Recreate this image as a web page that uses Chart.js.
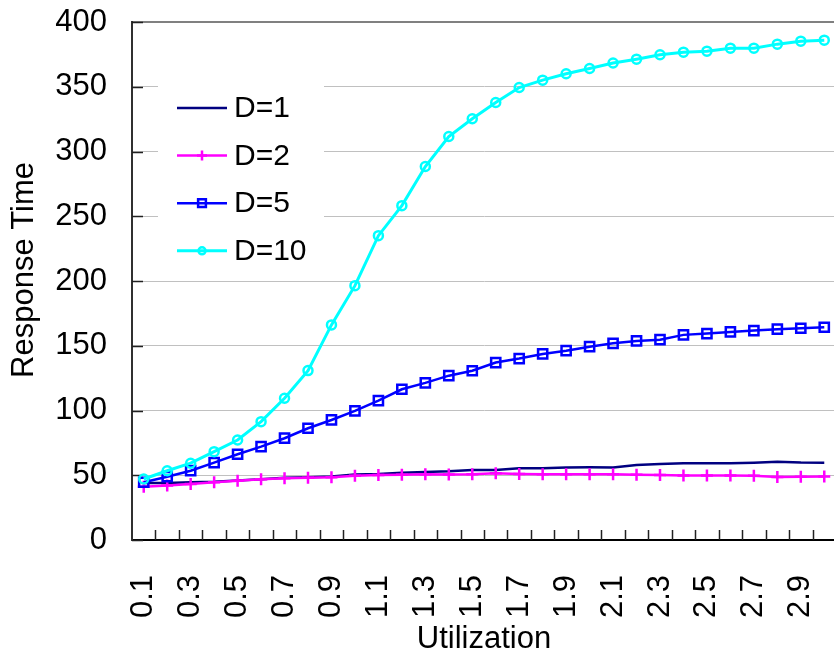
<!DOCTYPE html>
<html>
<head>
<meta charset="utf-8">
<title>Response Time vs Utilization</title>
<script src="https://cdn.jsdelivr.net/npm/chart.js@4/dist/chart.umd.min.js"></script>
<style>
  html, body { margin: 0; padding: 0; background: #fff; overflow: hidden; }
  #chart { display: block; }
</style>
</head>
<body>
<canvas id="chart" width="845" height="658"></canvas>
<script>
// x categories
const utilization = ['0.1', '0.2', '0.3', '0.4', '0.5', '0.6', '0.7', '0.8', '0.9', '1.0',
                     '1.1', '1.2', '1.3', '1.4', '1.5', '1.6', '1.7', '1.8', '1.9', '2.0',
                     '2.1', '2.2', '2.3', '2.4', '2.5', '2.6', '2.7', '2.8', '2.9', '3.0'];

// response time per series
const d1 = [44, 44, 44.5, 45, 46, 47, 48, 48.5, 49, 50.5,
            51, 52, 52.5, 53, 54, 54, 55.4, 55.5, 56, 56.2,
            56, 58, 58.7, 59.2, 59.3, 59.3, 59.7, 60.5, 59.8, 59.7];
const d2 = [41.2, 42, 43.3, 44.6, 45.8, 46.9, 47.7, 48.1, 48.4, 49.7,
            50.2, 50.4, 50.7, 50.5, 50.7, 51.5, 51, 50.7, 50.7, 50.7,
            50.7, 50.4, 50.2, 49.9, 49.9, 49.9, 49.6, 48.7, 48.9, 49.1];
const d5 = [44.6, 48.9, 53.5, 59.7, 66.2, 72.1, 78.6, 86.3, 92.7, 99.7,
            107.6, 116.4, 121.3, 126.9, 130.7, 137, 140.1, 143.7, 146.2, 149.3,
            151.9, 153.7, 154.7, 158.4, 159.4, 160.7, 161.7, 162.8, 163.5, 164.3];
const d10 = [47.1, 53.5, 59.3, 68.2, 77.2, 91.4, 109.5, 130.8, 166.1, 196.4,
             235, 258.2, 288.4, 311.6, 325.3, 337.8, 349.4, 355.1, 360, 364.1,
             368.3, 371.3, 374.7, 376.7, 377.5, 379.8, 379.8, 382.9, 385.2, 386];

const seriesNames = ['D=1', 'D=2', 'D=5', 'D=10'];
const yTitle = 'Response Time';

Chart.defaults.font.family = "'Liberation Sans', Arial, sans-serif";
Chart.defaults.color = '#000';

// legend drawn inside the plot, on a white box
const insideLegend = {
  id: 'insideLegend',
  beforeDatasetsDraw(chart) {
    const ctx = chart.ctx;
    ctx.save();
    ctx.fillStyle = '#fff';
    ctx.fillRect(158, 72, 166, 202);
    chart.data.datasets.forEach((ds, i) => {
      const y = 108 + i * 47.6;
      ctx.strokeStyle = ds.borderColor;
      ctx.lineWidth = ds.borderWidth;
      ctx.beginPath();
      ctx.moveTo(177, y);
      ctx.lineTo(227, y);
      ctx.stroke();
      if (ds.pointRadius > 0 && Chart.helpers && Chart.helpers.drawPoint) {
        ctx.strokeStyle = ds.pointBorderColor;
        ctx.fillStyle = 'rgba(0,0,0,0)';
        ctx.lineWidth = ds.pointBorderWidth;
        Chart.helpers.drawPoint(ctx, {
          pointStyle: ds.pointStyle, radius: ds.pointRadius - 1, borderWidth: ds.pointBorderWidth, rotation: 0
        }, 202, y);
      }
      ctx.fillStyle = '#000';
      ctx.font = "30px 'Liberation Sans', Arial, sans-serif";
      ctx.textBaseline = 'middle';
      ctx.textAlign = 'left';
      ctx.fillText(ds.label, 234, y + 1);
    });
    ctx.restore();
  }
};

// short tick marks pointing into the plot area, plus the vertical axis title
const innerTicks = {
  id: 'innerTicks',
  beforeDatasetsDraw(chart) {
    const ctx = chart.ctx;
    const xs = chart.scales.x, ys = chart.scales.y;
    const area = chart.chartArea;
    ctx.save();
    ctx.strokeStyle = '#202020';
    ctx.lineWidth = 1.5;
    ctx.beginPath();
    ys.ticks.forEach((t, i) => {
      const py = Math.round(ys.getPixelForTick(i)) + 0.5;
      ctx.moveTo(area.left, py);
      ctx.lineTo(area.left + 11, py);
    });
    const half = (xs.getPixelForTick(1) - xs.getPixelForTick(0)) / 2;
    for (let i = 1; i <= utilization.length; i++) {
      const px = Math.round(xs.getPixelForTick(i - 1) + half) + 0.5;
      ctx.moveTo(px, area.bottom);
      ctx.lineTo(px, area.bottom - 10);
    }
    ctx.stroke();

    ctx.translate(24, 270);
    ctx.rotate(-Math.PI / 2);
    ctx.fillStyle = '#000';
    ctx.font = "31px 'Liberation Sans', Arial, sans-serif";
    ctx.textAlign = 'center';
    ctx.textBaseline = 'middle';
    ctx.fillText(yTitle, 0, 0);
    ctx.restore();
  }
};

new Chart(document.getElementById('chart').getContext('2d'), {
  type: 'line',
  data: {
    labels: utilization,
    datasets: [{
      label: seriesNames[0],
      data: d1,
      borderColor: '#000080',
      borderWidth: 2.5,
      pointRadius: 0,
      order: 3
    }, {
      label: seriesNames[1],
      data: d2,
      borderColor: '#ff00ff',
      borderWidth: 2.5,
      pointStyle: 'cross',
      pointRadius: 6,
      pointBorderColor: '#ff00ff',
      pointBorderWidth: 2.5,
      order: 2
    }, {
      label: seriesNames[2],
      data: d5,
      borderColor: '#0000ff',
      borderWidth: 2.5,
      pointStyle: 'rect',
      pointRadius: 6.5,
      pointBorderColor: '#0000ff',
      pointBackgroundColor: 'rgba(0,0,0,0)',
      pointBorderWidth: 2.5,
      order: 1
    }, {
      label: seriesNames[3],
      data: d10,
      borderColor: '#00ffff',
      borderWidth: 3,
      pointStyle: 'circle',
      pointRadius: 4.5,
      pointBorderColor: '#00ffff',
      pointBackgroundColor: 'rgba(0,0,0,0)',
      pointBorderWidth: 2.5,
      order: 0
    }]
  },
  options: {
    responsive: false,
    devicePixelRatio: 1,
    animation: false,
    events: [],
    elements: { line: { tension: 0 } },
    layout: { padding: { top: 22, right: 0, left: 0, bottom: 0 } },
    plugins: {
      legend: { display: false },
      tooltip: { enabled: false }
    },
    scales: {
      x: {
        offset: true,
        grid: { display: false },
        border: { display: true, color: '#000', width: 2 },
        ticks: {
          autoSkip: false,
          maxRotation: 90,
          minRotation: 90,
          padding: 27,
          font: { size: 31 },
          callback: (v, i) => (i % 2 === 0 ? utilization[i] : '')
        },
        title: {
          display: true,
          text: 'Utilization',
          font: { size: 31 },
          padding: { top: 0, bottom: 0 }
        },
        afterFit(scale) {
          scale.height = 118;
          scale.paddingLeft = 0;
          scale.paddingRight = 0;
        }
      },
      y: {
        min: 0,
        max: 400,
        grid: {
          drawTicks: false,
          color: (c) => (c.tick && c.tick.value === 400 ? '#808080' : '#c0c0c0'),
          lineWidth: (c) => (c.tick && c.tick.value === 400 ? 2 : 1)
        },
        border: { display: true, color: '#303030', width: 2 },
        ticks: {
          stepSize: 50,
          padding: 25,
          font: { size: 31 }
        },
        title: { display: false },
        afterFit(scale) {
          scale.width = 132;
          scale.paddingTop = 0;
          scale.paddingBottom = 0;
        }
      }
    }
  },
  plugins: [innerTicks, insideLegend]
});
</script>
</body>
</html>
